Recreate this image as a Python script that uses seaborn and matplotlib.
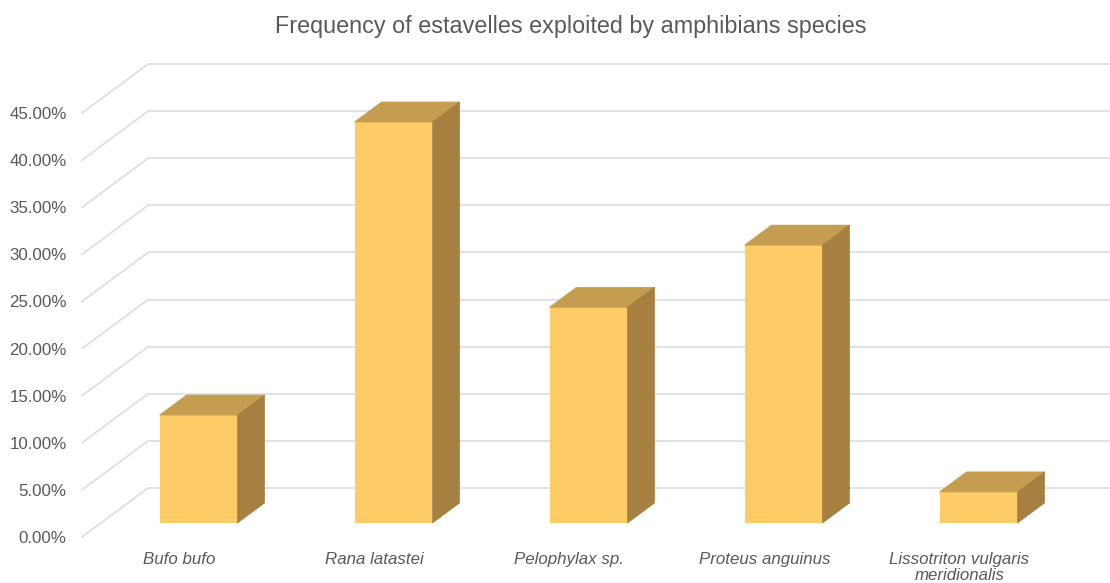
import numpy as np
import pandas as pd
import matplotlib
matplotlib.use("Agg")
import matplotlib.pyplot as plt
from matplotlib.patches import Polygon
from matplotlib.ticker import FuncFormatter
import seaborn as sns

# ── data ─────────────────────────────────────────────────────────────────────
SPECIES = ["Bufo bufo", "Rana latastei", "Pelophylax sp.",
           "Proteus anguinus", "Lissotriton vulgaris\nmeridionalis"]
FREQ = [11.46, 42.57, 22.9, 29.5, 3.3]          # percent
YTICKS = [0, 5, 10, 15, 20, 25, 30, 35, 40, 45]

TITLE = "Frequency of estavelles exploited by amphibians species"

# ── colours ──────────────────────────────────────────────────────────────────
FRONT = "#FDCC67"
TOP = "#C49D50"
SIDE = "#A58040"
GRID = "#DFDFDF"
TEXT = "#595959"

# ── fake 3D geometry (data units: x = category, y = percent) ────────────────
PX_X = 195.0      # pixels per category
PX_Y = 9.42       # pixels per percent
WALL_DX, WALL_DY = 66 / PX_X, 49 / PX_Y      # front plane -> back wall
BAR_DX, BAR_DY = 19 / PX_X, 14 / PX_Y        # front plane -> bar front face
DEP_DX, DEP_DY = 27 / PX_X, 20 / PX_Y        # bar depth
BAR_W = 78 / PX_X

sns.set_style("white")
plt.rcParams["font.family"] = ["Liberation Sans", "DejaVu Sans"]

W, H = 1110, 583
fig = plt.figure(figsize=(W / 100, H / 100), dpi=100)
left_px, bottom_px = 82, 537
ymax = 52
ax = fig.add_axes([left_px / W, (H - bottom_px) / H,
                   (W - left_px) / W, ymax * PX_Y / H])

df = pd.DataFrame({"species": SPECIES, "freq": FREQ})
sns.barplot(data=df, x="species", y="freq", color=FRONT, width=BAR_W,
            saturation=1, linewidth=0, ax=ax, zorder=3)

xmin = -0.5
xmax = xmin + (W - left_px) / PX_X
ax.set_xlim(xmin, xmax)
ax.set_ylim(0, ymax)

# back wall gridlines + diagonal side-wall lines
for v in YTICKS:
    ax.plot([xmin, xmin + WALL_DX], [v, v + WALL_DY], color=GRID, lw=1.3,
            zorder=1, clip_on=False)
    ax.plot([xmin + WALL_DX, xmax], [v + WALL_DY, v + WALL_DY], color=GRID,
            lw=1.3, zorder=1, clip_on=False)

# shift bar faces into their depth plane, add top and side faces
for p in ax.patches[:len(FREQ)]:
    x0 = p.get_x() + BAR_DX
    h = p.get_height()
    p.set_x(x0)
    p.set_y(BAR_DY)
    x1 = x0 + p.get_width()
    y0, y1 = BAR_DY, BAR_DY + h
    top = Polygon([(x0, y1), (x1, y1), (x1 + DEP_DX, y1 + DEP_DY),
                   (x0 + DEP_DX, y1 + DEP_DY)], closed=True,
                  facecolor=TOP, edgecolor=TOP, lw=0.5, zorder=3)
    side = Polygon([(x1, y0), (x1, y1), (x1 + DEP_DX, y1 + DEP_DY),
                    (x1 + DEP_DX, y0 + DEP_DY)], closed=True,
                   facecolor=SIDE, edgecolor=SIDE, lw=0.5, zorder=3)
    ax.add_patch(top)
    ax.add_patch(side)

ax.set_yticks(YTICKS)
ax.yaxis.set_major_formatter(FuncFormatter(lambda v, _: f"{v:.2f}%"))
ax.tick_params(axis="y", length=0, pad=11, labelsize=12.2, labelcolor=TEXT)
ax.tick_params(axis="x", length=0, pad=11, labelsize=12.2, labelcolor=TEXT)
for lab in ax.get_xticklabels():
    lab.set_fontstyle("italic")
    lab.set_linespacing(1.1)
ax.set_xlabel("")
ax.set_ylabel("")
sns.despine(ax=ax, left=True, bottom=True)

fig.text(571 / W, 1 - 27 / H, TITLE, ha="center", va="center",
         fontsize=16.8, color=TEXT)

fig.savefig("out.png", dpi=100)
